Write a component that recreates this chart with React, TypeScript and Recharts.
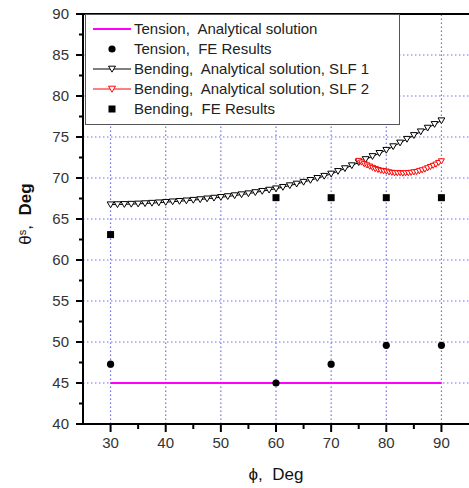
import React from 'react';
import { ComposedChart, Line, XAxis, YAxis, ReferenceLine } from 'recharts';

// angle phi (deg) on the x axis, theta_s (deg) on the y axis
const phiTicks = [30, 35, 40, 45, 50, 55, 60, 65, 70, 75, 80, 85, 90];
const thetaTicks = [40, 42.5, 45, 47.5, 50, 52.5, 55, 57.5, 60, 62.5, 65, 67.5, 70, 72.5, 75, 77.5, 80, 82.5, 85, 87.5, 90];
const gridPhi = [30, 40, 50, 60, 70, 80, 90];
const gridTheta = [45, 50, 55, 60, 65, 70, 75, 80, 85];

const tensionAnalytical = [
  { x: 30, y: 45 },
  { x: 90, y: 45 },
];

const tensionFE = [
  { x: 30, y: 47.3 },
  { x: 60, y: 45 },
  { x: 70, y: 47.3 },
  { x: 80, y: 49.6 },
  { x: 90, y: 49.6 },
];

const slf1Phi = [30, 31.25, 32.5, 33.75, 35, 36.25, 37.5, 38.75, 40, 41.25, 42.5, 43.75, 45, 46.25, 47.5, 48.75, 50, 51.25, 52.5, 53.75, 55, 56.25, 57.5, 58.75, 60, 61.25, 62.5, 63.75, 65, 66.25, 67.5, 68.75, 70, 71.25, 72.5, 73.75, 75, 76.25, 77.5, 78.75, 80, 81.25, 82.5, 83.75, 85, 86.25, 87.5, 88.75, 90];
const slf1Theta = [66.75, 66.77, 66.79, 66.82, 66.85, 66.89, 66.94, 66.99, 67.05, 67.11, 67.17, 67.23, 67.3, 67.38, 67.47, 67.56, 67.65, 67.75, 67.86, 67.98, 68.1, 68.24, 68.39, 68.54, 68.7, 68.88, 69.08, 69.28, 69.5, 69.73, 69.97, 70.23, 70.5, 70.82, 71.16, 71.52, 71.9, 72.27, 72.64, 73.02, 73.4, 73.84, 74.29, 74.74, 75.2, 75.65, 76.1, 76.55, 77.0];

const slf2Phi = [75, 75.5, 76, 76.5, 77, 77.5, 78, 78.5, 79, 79.5, 80, 80.5, 81, 81.5, 82, 82.5, 83, 83.5, 84, 84.5, 85, 85.5, 86, 86.5, 87, 87.5, 88, 88.5, 89, 89.5, 90];
const slf2Theta = [72.1, 71.9, 71.7, 71.55, 71.4, 71.25, 71.1, 71.0, 70.9, 70.85, 70.8, 70.7, 70.65, 70.6, 70.6, 70.6, 70.55, 70.6, 70.6, 70.65, 70.7, 70.75, 70.85, 70.95, 71.05, 71.2, 71.35, 71.5, 71.65, 71.85, 72.05];

const bendingFE = [
  { x: 30, y: 63.1 },
  { x: 60, y: 67.6 },
  { x: 70, y: 67.6 },
  { x: 80, y: 67.6 },
  { x: 90, y: 67.6 },
];

const slf1 = slf1Phi.map((x, i) => ({ x, y: slf1Theta[i] }));
const slf2 = slf2Phi.map((x, i) => ({ x, y: slf2Theta[i] }));

const FONT = '"Liberation Sans", Arial, sans-serif';
const GRID = '#7070ff';

const triPath = (cx: number, cy: number, s: number) =>
  `M${cx - s},${cy - s * 0.8} L${cx + s},${cy - s * 0.8} L${cx},${cy + s * 0.9} Z`;

const Tri = (color: string, s: number) => (props: any) => {
  const { cx, cy, index } = props;
  if (cx == null || cy == null) return <g key={index} />;
  return <path key={index} d={triPath(cx, cy, s)} fill="#fff" stroke={color} strokeWidth={1} />;
};

const Dot = (props: any) => {
  const { cx, cy, index } = props;
  return <circle key={index} cx={cx} cy={cy} r={3.6} fill="#000" />;
};

const Square = (props: any) => {
  const { cx, cy, index } = props;
  return <rect key={index} x={cx - 3.5} y={cy - 3.5} width={7} height={7} fill="#000" />;
};

const XTick = (props: any) => {
  const { x, y, payload } = props;
  const major = payload.value % 10 === 0;
  return (
    <g>
      <line x1={x} x2={x} y1={y} y2={y + (major ? 8 : 5)} stroke="#000" strokeWidth={2} />
      {major && (
        <text x={x} y={y + 24} textAnchor="middle" fontSize={15} fontFamily={FONT} fill="#333">
          {payload.value}
        </text>
      )}
    </g>
  );
};

const YTick = (props: any) => {
  const { x, y, payload } = props;
  const major = payload.value % 5 === 0;
  return (
    <g>
      <line x1={x} x2={x - (major ? 7 : 4)} y1={y} y2={y} stroke="#000" strokeWidth={2} />
      {major && (
        <text x={x - 14} y={y + 5} textAnchor="end" fontSize={15} fontFamily={FONT} fill="#333">
          {payload.value}
        </text>
      )}
    </g>
  );
};

const XTitle = (props: any) => {
  const { viewBox } = props;
  const cx = viewBox.x + viewBox.width / 2;
  return (
    <text x={cx} y={480} textAnchor="middle" fontSize={17} fontFamily={FONT} fill="#111" style={{ whiteSpace: 'pre' }}>
      {'\u03d5,  Deg'}
    </text>
  );
};

const YTitle = () => {
  const cy = 214;
  const cx = 31;
  return (
    <text x={cx} y={cy} transform={`rotate(-90 ${cx} ${cy})`} textAnchor="middle" fontSize={17} fontFamily={FONT} fill="#111" style={{ whiteSpace: 'pre' }}>
      <tspan>{'\u03b8'}</tspan>
      <tspan fontSize={11} dy={-5}>s</tspan>
      <tspan dy={5}>{',  '}</tspan>
      <tspan fontWeight="bold">Deg</tspan>
    </text>
  );
};

const legendRows = [
  { label: 'Tension,  Analytical solution', kind: 'line' },
  { label: 'Tension,  FE Results', kind: 'dot' },
  { label: 'Bending,  Analytical solution, SLF 1', kind: 'tri1' },
  { label: 'Bending,  Analytical solution, SLF 2', kind: 'tri2' },
  { label: 'Bending,  FE Results', kind: 'square' },
];

const LegendMark = ({ kind }: { kind: string }) => (
  <svg width={48} height={20} style={{ display: 'block' }}>
    {kind === 'line' && <line x1={7} x2={45} y1={10} y2={10} stroke="#ff00ff" strokeWidth={2} />}
    {kind === 'dot' && <circle cx={26} cy={10} r={3.6} fill="#000" />}
    {kind === 'tri1' && (
      <g>
        <line x1={7} x2={45} y1={10} y2={10} stroke="#000" strokeWidth={1} />
        <path d={triPath(26, 10, 3.5)} fill="#fff" stroke="#000" />
      </g>
    )}
    {kind === 'tri2' && (
      <g>
        <line x1={7} x2={45} y1={10} y2={10} stroke="#ff0000" strokeWidth={1} />
        <path d={triPath(26, 10, 3.5)} fill="#fff" stroke="#ff0000" />
      </g>
    )}
    {kind === 'square' && <rect x={22.5} y={6.5} width={7} height={7} fill="#000" />}
  </svg>
);

export default function App() {
  return (
    <div style={{ position: 'absolute', left: 0, top: 0, width: 469, height: 488, background: '#fff', fontFamily: FONT }}>
      <ComposedChart width={469} height={488} margin={{ top: 14, right: 0, bottom: 0, left: 0 }}>
        <XAxis
          type="number"
          dataKey="x"
          domain={[25, 95]}
          ticks={phiTicks}
          interval={0}
          allowDataOverflow
          height={64}
          tickSize={0}
          tickMargin={0}
          tickLine={false}
          tick={<XTick />}
          axisLine={{ stroke: '#000', strokeWidth: 2 }}
          label={{ content: <XTitle /> }}
        />
        <YAxis
          type="number"
          domain={[40, 90]}
          ticks={thetaTicks}
          interval={0}
          allowDataOverflow
          width={83}
          tickSize={0}
          tickMargin={0}
          tickLine={false}
          tick={<YTick />}
          axisLine={{ stroke: '#000', strokeWidth: 2 }}
          label={{ content: <YTitle /> }}
        />
        {gridTheta.map((v) => (
          <ReferenceLine key={'gy' + v} y={v} stroke={GRID} strokeDasharray="1.5 2.5" strokeWidth={1.2} />
        ))}
        {gridPhi.map((v) => (
          <ReferenceLine key={'gx' + v} x={v} stroke={GRID} strokeDasharray="1.5 2.5" strokeWidth={1.2} />
        ))}
        <ReferenceLine y={90} stroke="#000" strokeWidth={2} />
        <Line data={tensionAnalytical} dataKey="y" stroke="#ff00ff" strokeWidth={2} dot={false} isAnimationActive={false} />
        <Line data={tensionFE} dataKey="y" stroke="none" dot={Dot} activeDot={false} isAnimationActive={false} />
        <Line data={slf1} dataKey="y" stroke="#000" strokeWidth={1} dot={Tri('#000', 3.4)} activeDot={false} isAnimationActive={false} />
        <Line data={slf2} dataKey="y" stroke="#ff0000" strokeWidth={1} dot={Tri('#ff0000', 3)} activeDot={false} isAnimationActive={false} />
        <Line data={bendingFE} dataKey="y" stroke="none" dot={Square} activeDot={false} isAnimationActive={false} />
      </ComposedChart>
      <div
        style={{
          position: 'absolute',
          left: 85,
          top: 14,
          width: 315,
          height: 111,
          boxSizing: 'border-box',
          border: '1.5px solid #555',
          background: '#fff',
          paddingTop: 4,
        }}
      >
        {legendRows.map((r) => (
          <div key={r.label} style={{ display: 'flex', alignItems: 'center', height: 20 }}>
            <LegendMark kind={r.kind} />
            <span style={{ fontSize: 15, color: '#222', whiteSpace: 'pre', lineHeight: '20px' }}>{r.label}</span>
          </div>
        ))}
      </div>
    </div>
  );
}
